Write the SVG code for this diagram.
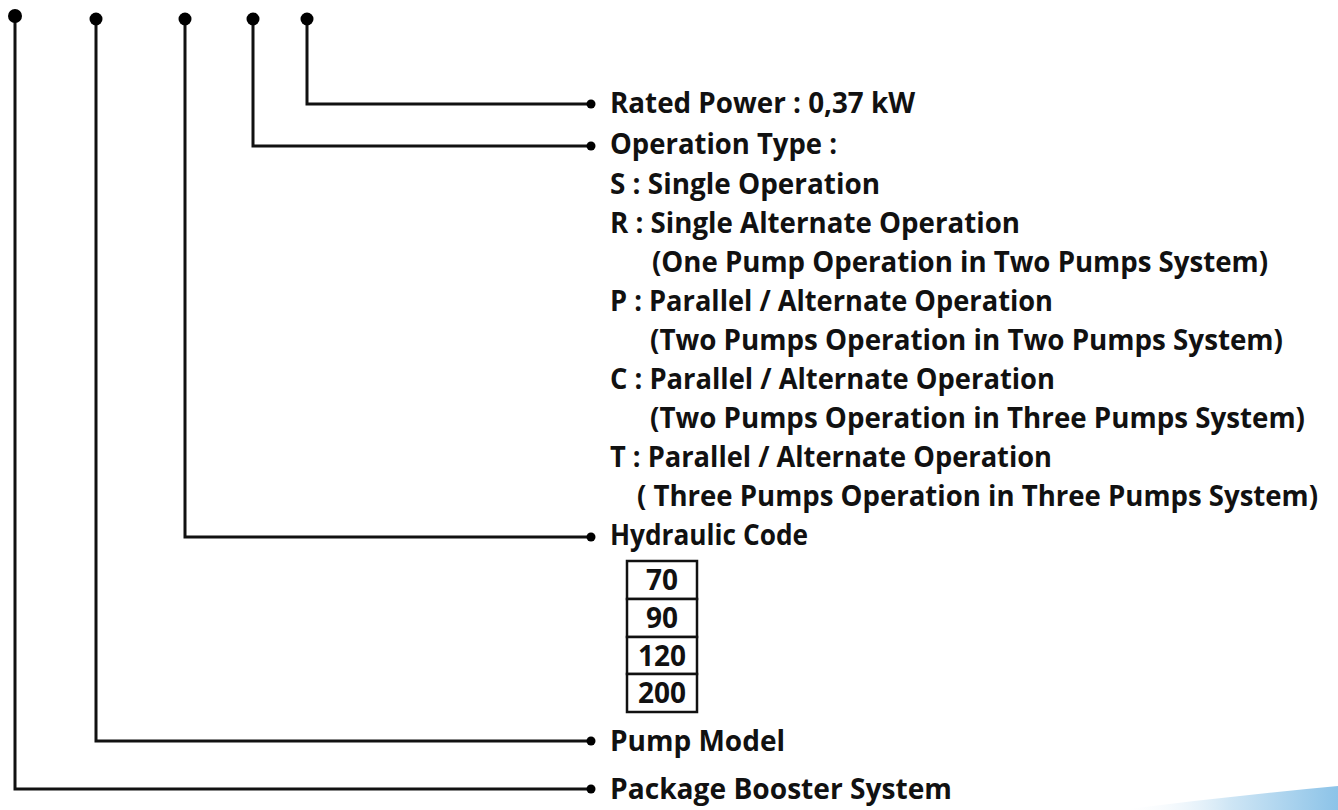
<svg xmlns="http://www.w3.org/2000/svg" width="1338" height="810" viewBox="0 0 1338 810">
  <defs>
    <style>
      .wire { fill: none; stroke: #111; stroke-width: 3; stroke-linejoin: miter; }
      .dot { fill: #000; }
      .end { fill: #000; }
      .lbl { font-family: "Open Sans", "Noto Sans", "Liberation Sans", sans-serif; font-weight: 700; font-size: 28px; fill: #111; }
      .cell { fill: #fff; stroke: #111; stroke-width: 2.5; }
      .num { font-family: "Open Sans", "Noto Sans", "Liberation Sans", sans-serif; font-weight: 700; font-size: 28px; fill: #111; text-anchor: middle; }
    </style>
    <linearGradient id="swoosh" x1="0" y1="0" x2="1" y2="0">
      <stop offset="0" stop-color="#ffffff" stop-opacity="0"/>
      <stop offset="0.5" stop-color="#cfe6f5"/>
      <stop offset="1" stop-color="#8cc3e8"/>
    </linearGradient>
  </defs>
  <rect width="1338" height="810" fill="#fff"/>

  <path d="M1120,810 Q1230,796 1338,786 L1338,810 Z" fill="url(#swoosh)"/>

  <g id="connectors">
    <polyline class="wire" points="15,16 15,789 590,789"/>
    <polyline class="wire" points="96,19 96,741 590,741"/>
    <polyline class="wire" points="185,19 185,537 590,537"/>
    <polyline class="wire" points="253,19 253,146 590,146"/>
    <polyline class="wire" points="307,19 307,104 590,104"/>
    <circle class="dot" cx="15" cy="16" r="7"/>
    <circle class="dot" cx="96" cy="19" r="6.5"/>
    <circle class="dot" cx="185" cy="19" r="6.5"/>
    <circle class="dot" cx="253" cy="19" r="6.5"/>
    <circle class="dot" cx="307" cy="19" r="6.5"/>
    <circle class="end" cx="591" cy="104" r="4.5"/>
    <circle class="end" cx="591" cy="146" r="4.5"/>
    <circle class="end" cx="591" cy="537" r="4.5"/>
    <circle class="end" cx="591" cy="741" r="4.5"/>
    <circle class="end" cx="591" cy="789" r="4.5"/>
  </g>

  <g id="rated-power">
    <text class="lbl" x="610" y="113" textLength="305" lengthAdjust="spacingAndGlyphs">Rated Power : 0,37 kW</text>
  </g>

  <g id="operation-type">
    <text class="lbl" x="610" y="154" textLength="227" lengthAdjust="spacingAndGlyphs">Operation Type :</text>
    <text class="lbl" x="610" y="194" textLength="270" lengthAdjust="spacingAndGlyphs">S : Single Operation</text>
    <text class="lbl" x="610" y="233" textLength="410" lengthAdjust="spacingAndGlyphs">R : Single Alternate Operation</text>
    <text class="lbl" x="652" y="272" textLength="616" lengthAdjust="spacingAndGlyphs">(One Pump Operation in Two Pumps System)</text>
    <text class="lbl" x="610" y="311" textLength="443" lengthAdjust="spacingAndGlyphs">P : Parallel / Alternate Operation</text>
    <text class="lbl" x="650" y="350" textLength="633" lengthAdjust="spacingAndGlyphs">(Two Pumps Operation in Two Pumps System)</text>
    <text class="lbl" x="610" y="389" textLength="445" lengthAdjust="spacingAndGlyphs">C : Parallel / Alternate Operation</text>
    <text class="lbl" x="650" y="428" textLength="655" lengthAdjust="spacingAndGlyphs">(Two Pumps Operation in Three Pumps System)</text>
    <text class="lbl" x="610" y="467" textLength="442" lengthAdjust="spacingAndGlyphs">T : Parallel / Alternate Operation</text>
    <text class="lbl" x="637" y="506" textLength="681" lengthAdjust="spacingAndGlyphs">( Three Pumps Operation in Three Pumps System)</text>
  </g>

  <g id="hydraulic-code">
    <text class="lbl" x="610" y="545" textLength="198" lengthAdjust="spacingAndGlyphs">Hydraulic Code</text>
    <rect class="cell" x="627" y="561" width="70" height="38"/>
    <rect class="cell" x="627" y="599" width="70" height="38"/>
    <rect class="cell" x="627" y="637" width="70" height="37"/>
    <rect class="cell" x="627" y="674" width="70" height="38"/>
    <text class="num" x="662" y="590">70</text>
    <text class="num" x="662" y="628">90</text>
    <text class="num" x="662" y="666">120</text>
    <text class="num" x="662" y="703">200</text>
  </g>

  <g id="pump-model">
    <text class="lbl" x="610" y="751" textLength="175" lengthAdjust="spacingAndGlyphs">Pump Model</text>
  </g>

  <g id="package-booster-system">
    <text class="lbl" x="610" y="799" textLength="342" lengthAdjust="spacingAndGlyphs">Package Booster System</text>
  </g>
</svg>
